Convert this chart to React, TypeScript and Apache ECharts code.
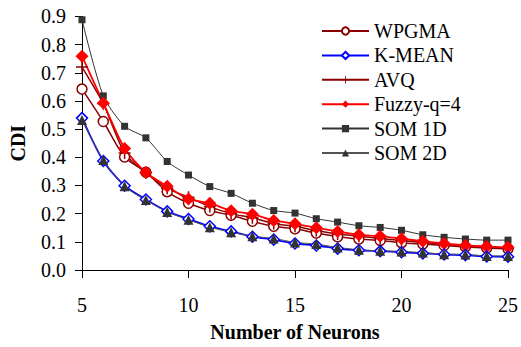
import React, { useEffect, useRef } from "react";
import * as echarts from "echarts";

const neurons = [5, 6, 7, 8, 9, 10, 11, 12, 13, 14, 15, 16, 17, 18, 19, 20, 21, 22, 23, 24, 25];
const wpgma = [0.642, 0.527, 0.401, 0.347, 0.278, 0.237, 0.211, 0.194, 0.173, 0.155, 0.146, 0.131, 0.118, 0.11, 0.105, 0.097, 0.092, 0.087, 0.082, 0.078, 0.075];
const kmean = [0.539, 0.387, 0.299, 0.25, 0.208, 0.181, 0.155, 0.137, 0.118, 0.108, 0.094, 0.087, 0.076, 0.07, 0.067, 0.063, 0.059, 0.055, 0.053, 0.048, 0.047];
const avq = [0.72, 0.59, 0.415, 0.345, 0.29, 0.258, 0.225, 0.2, 0.185, 0.165, 0.155, 0.14, 0.128, 0.12, 0.112, 0.105, 0.098, 0.091, 0.086, 0.081, 0.078];
const fuzzy = [0.759, 0.593, 0.431, 0.346, 0.297, 0.252, 0.237, 0.21, 0.198, 0.176, 0.164, 0.15, 0.137, 0.125, 0.12, 0.111, 0.102, 0.094, 0.087, 0.083, 0.081];
const som1d = [0.888, 0.618, 0.51, 0.469, 0.385, 0.337, 0.296, 0.272, 0.237, 0.211, 0.202, 0.182, 0.17, 0.157, 0.151, 0.141, 0.125, 0.116, 0.11, 0.106, 0.106];
const som2d = [0.532, 0.39, 0.297, 0.248, 0.206, 0.178, 0.152, 0.134, 0.12, 0.112, 0.098, 0.092, 0.08, 0.072, 0.068, 0.066, 0.062, 0.056, 0.055, 0.05, 0.05];

const FONT = "Liberation Serif";
const FS = 20;
const DARKRED = "#8b0000";
const PLUS = "path://M5.25,0 h1.5 v5.25 h5.25 v1.5 h-5.25 v5.25 h-1.5 v-5.25 h-5.25 v-1.5 h5.25 z";

function pts(vals: number[]) {
  return neurons.map((n, i) => [n, vals[i]]);
}

export default function App() {
  const ref = useRef<HTMLDivElement>(null);
  useEffect(() => {
    if (!ref.current) return;
    const chart = echarts.init(ref.current, null, { renderer: "svg" });
    const mk = (name: string, vals: number[], color: string, lineColor: string, symbol: string, size: number, filled: boolean, width: number) => ({
      name,
      type: "line",
      data: pts(vals),
      smooth: 0.25,
      symbol,
      symbolSize: size,
      showSymbol: true,
      lineStyle: { color: lineColor, width },
      itemStyle: filled
        ? { color, borderColor: color, borderWidth: 0 }
        : { color: "#ffffff", borderColor: color, borderWidth: 1.5 },
      emphasis: { disabled: true },
    });
    chart.setOption({
      animation: false,
      textStyle: { fontFamily: FONT },
      grid: { left: 82, right: 9, top: 16.4, bottom: 74.7 },
      legend: {
        orient: "vertical",
        left: 316,
        top: 16,
        itemWidth: 47,
        itemHeight: 9,
        itemGap: 4.4,
        textStyle: { fontFamily: FONT, fontSize: FS, color: "#000" },
        data: ["WPGMA", "K-MEAN", "AVQ", "Fuzzy-q=4", "SOM 1D", "SOM 2D"],
      },
      xAxis: {
        type: "value",
        min: 5,
        max: 25,
        interval: 5,
        name: "Number of Neurons",
        nameLocation: "middle",
        nameGap: 52,
        nameTextStyle: { fontFamily: FONT, fontSize: FS, fontWeight: "bold", color: "#000" },
        axisLine: { onZero: false, lineStyle: { color: "#000", width: 1 } },
        axisTick: { show: true, inside: false, length: 8, lineStyle: { color: "#000" } },
        axisLabel: { fontFamily: FONT, fontSize: FS, color: "#000", margin: 25 },
        splitLine: { show: false },
      },
      yAxis: {
        type: "value",
        min: 0,
        max: 0.9,
        interval: 0.1,
        name: "CDI",
        nameLocation: "middle",
        nameGap: 54,
        nameTextStyle: { fontFamily: FONT, fontSize: FS, fontWeight: "bold", color: "#000" },
        axisLine: { show: true, lineStyle: { color: "#000", width: 1 } },
        axisTick: { show: true, inside: false, length: 7, lineStyle: { color: "#000" } },
        axisLabel: { fontFamily: FONT, fontSize: FS, color: "#000", margin: 16, formatter: (v: number) => v.toFixed(1) },
        splitLine: { show: false },
      },
      series: [
        mk("SOM 1D", som1d, "#333333", "#333333", "rect", 7, true, 1),
        mk("WPGMA", wpgma, DARKRED, DARKRED, "circle", 10, false, 1.5),
        mk("AVQ", avq, DARKRED, DARKRED, PLUS, 12, true, 1.5),
        mk("Fuzzy-q=4", fuzzy, "#ff0000", "#ff0000", "diamond", 13, true, 1.8),
        mk("K-MEAN", kmean, "#0000ff", "#0000ff", "diamond", 11, false, 1.8),
        mk("SOM 2D", som2d, "#333333", "#555555", "triangle", 10, true, 1),
      ],
    });
    return () => chart.dispose();
  }, []);
  return <div ref={ref} style={{ width: 521, height: 347, position: "absolute", left: 0, top: 0 }} />;
}
